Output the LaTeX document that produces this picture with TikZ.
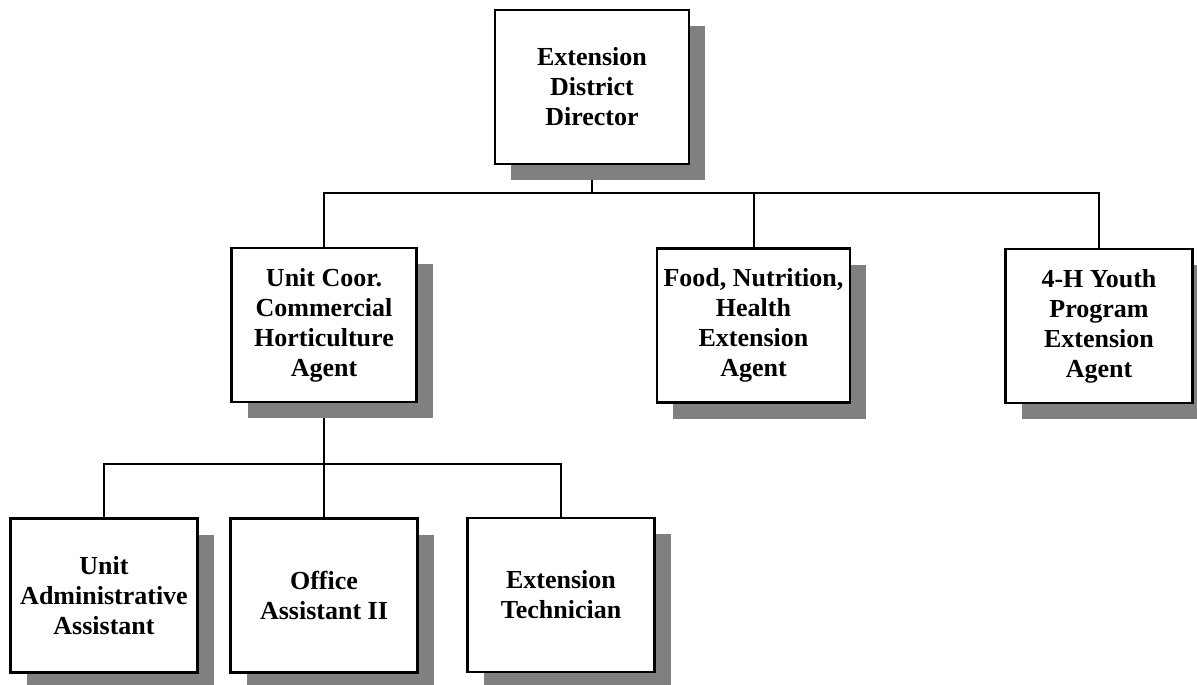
\documentclass[tikz,border=0pt]{standalone}
\usepackage{fontspec}
\setmainfont{Liberation Serif}
\usetikzlibrary{shadows,backgrounds}

\tikzset{
  unitbox/.style={
    draw=black, line width=2.6pt, fill=white, rectangle,
    minimum height=154pt, inner sep=2pt, align=center,
    font=\fontsize{26}{30}\selectfont\bfseries,
    drop shadow={shadow xshift=16pt, shadow yshift=-16pt,
                 fill=black!50, opacity=1, draw=none}
  },
  link/.style={draw=black, line width=2pt}
}

\begin{document}
\begin{tikzpicture}[x=1pt, y=-1pt]
  \useasboundingbox (0,0) rectangle (1197,685);

  % top level
  \node[unitbox, minimum width=194pt] (dir) at (592,87)
    {Extension\\District\\Director};

  % middle level
  \node[unitbox, minimum width=185pt] (uc) at (324,325)
    {Unit Coor.\\Commercial\\Horticulture\\Agent};
  \node[unitbox, minimum width=193pt] (fn) at (753.5,325.5)
    {Food, Nutrition,\\Health\\Extension\\Agent};
  \node[unitbox, minimum width=187pt] (hy) at (1099,326)
    {4-H Youth\\Program\\Extension\\Agent};

  % bottom level
  \node[unitbox, minimum width=187pt] (ua) at (104,595.5)
    {Unit\\Administrative\\Assistant};
  \node[unitbox, minimum width=187pt] (oa) at (324,595.5)
    {Office\\Assistant II};
  \node[unitbox, minimum width=187pt] (et) at (561,595)
    {Extension\\Technician};

  % bus lines
  \coordinate (busA) at (0,193);
  \coordinate (busB) at (0,464);

  \begin{scope}[on background layer]
    \draw[link] (dir.south) -- (dir.south |- busA);
    \draw[link] (uc.north) |- (hy.north |- busA) -- (hy.north);
    \draw[link] (fn.north) -- (fn.north |- busA);

    \draw[link] (uc.south) -- (oa.north);
    \draw[link] (ua.north) |- (et.north |- busB) -- (et.north);
  \end{scope}
\end{tikzpicture}
\end{document}
